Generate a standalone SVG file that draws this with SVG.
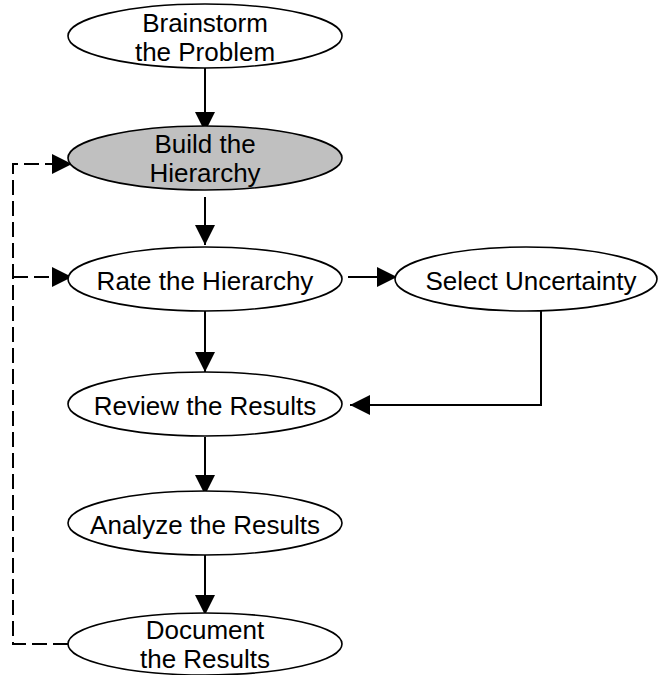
<svg xmlns="http://www.w3.org/2000/svg" width="660" height="675" viewBox="0 0 660 675">
  <style>
    .node ellipse { fill: #ffffff; stroke: #000000; stroke-width: 1.6; }
    .node.active ellipse { fill: #c0c0c0; }
    .node text { font-family: "Liberation Sans", Arial, sans-serif; font-size: 26px; fill: #000000; text-anchor: middle; }
    .flow { fill: none; stroke: #000000; stroke-width: 2; }
    .loop { fill: none; stroke: #000000; stroke-width: 2; stroke-dasharray: 15 6; }
  </style>
  <defs>
    <marker id="arrow" markerUnits="userSpaceOnUse" markerWidth="20" markerHeight="20" refX="20" refY="10" orient="auto">
      <path d="M0,0 L20,10 L0,20 Z" fill="#000000"/>
    </marker>
  </defs>

  <rect width="660" height="675" fill="#ffffff"/>

  <g id="connectors">
    <path class="flow" d="M205,68 V132" marker-end="url(#arrow)"/>
    <path class="flow" d="M205,197 V245" marker-end="url(#arrow)"/>
    <path class="flow" d="M348,277 H397" marker-end="url(#arrow)"/>
    <path class="flow" d="M205,308 V372" marker-end="url(#arrow)"/>
    <path class="flow" d="M541,310 V405 H350" marker-end="url(#arrow)"/>
    <path class="flow" d="M205,437 V495" marker-end="url(#arrow)"/>
    <path class="flow" d="M205,548 V615" marker-end="url(#arrow)"/>
    <path class="loop" d="M68,644 H13 V164 H72" marker-end="url(#arrow)"/>
    <path class="loop" d="M13,277 H72" marker-end="url(#arrow)"/>
  </g>

  <g id="brainstorm" class="node">
    <ellipse cx="205" cy="36" rx="137" ry="32"/>
    <text x="205" y="32">Brainstorm</text>
    <text x="205" y="61">the Problem</text>
  </g>

  <g id="build" class="node active">
    <ellipse cx="205" cy="158" rx="137" ry="32"/>
    <text x="205" y="153">Build the</text>
    <text x="205" y="182">Hierarchy</text>
  </g>

  <g id="rate" class="node">
    <ellipse cx="205" cy="279" rx="137" ry="32"/>
    <text x="205" y="290">Rate the Hierarchy</text>
  </g>

  <g id="select" class="node">
    <ellipse cx="526" cy="279" rx="131" ry="32"/>
    <text x="531" y="290">Select Uncertainty</text>
  </g>

  <g id="review" class="node">
    <ellipse cx="205" cy="404" rx="137" ry="32"/>
    <text x="205" y="415">Review the Results</text>
  </g>

  <g id="analyze" class="node">
    <ellipse cx="205" cy="523" rx="137" ry="32"/>
    <text x="205" y="534">Analyze the Results</text>
  </g>

  <g id="document" class="node">
    <ellipse cx="205" cy="644" rx="137" ry="31"/>
    <text x="205" y="639">Document</text>
    <text x="205" y="668">the Results</text>
  </g>
</svg>
